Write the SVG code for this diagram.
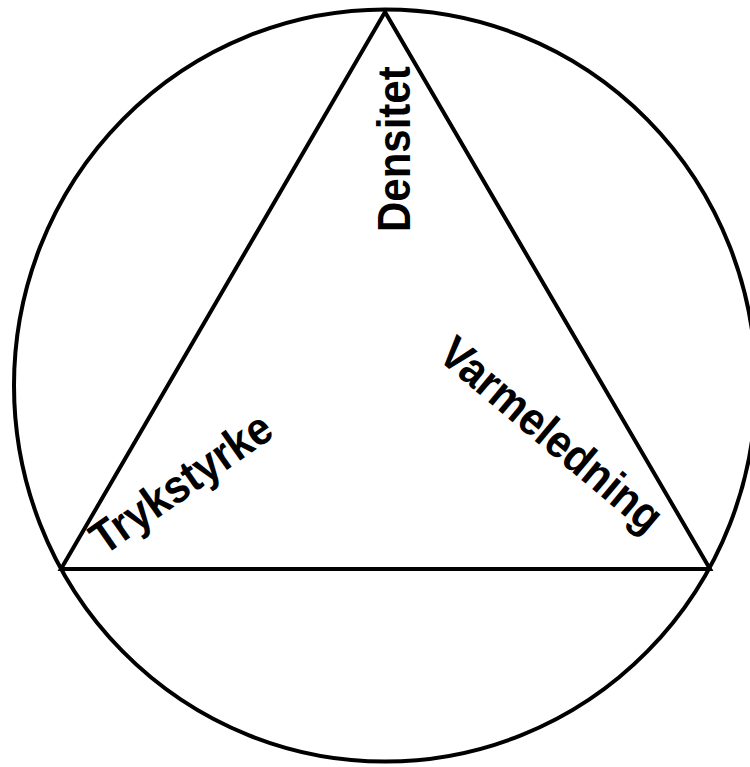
<svg xmlns="http://www.w3.org/2000/svg" width="750" height="767" viewBox="0 0 750 767">
<style>
.ln{fill:none;stroke:#000;stroke-width:4}
.lb{font-family:"Liberation Sans",Arial,sans-serif;font-weight:bold;font-size:42px;fill:#000}
</style>
<rect width="750" height="767" fill="#fff"/>
<g id="connectors">
<ellipse id="circle" class="ln" cx="385" cy="385.5" rx="371" ry="376"/>
<polygon id="triangle" class="ln" points="385,12 61,569 710,569" stroke-linejoin="miter"/>
</g>
<g id="densitet"><text class="lb" transform="translate(410,232) rotate(-90) scale(1,1.1)">Densitet</text></g>
<g id="trykstyrke"><text class="lb" transform="translate(104,556) rotate(-35) scale(1,1.1)">Trykstyrke</text></g>
<g id="varmeledning"><text class="lb" transform="translate(436,358) rotate(40) scale(1,1.1)">Varmeledning</text></g>
</svg>
